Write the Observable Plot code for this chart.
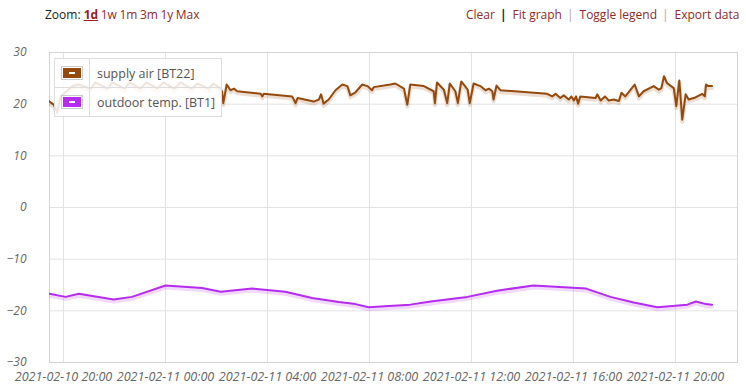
<!DOCTYPE html>
<html>
<head>
<meta charset="utf-8">
<script src="https://cdn.jsdelivr.net/npm/d3@7"></script>
<script src="https://cdn.jsdelivr.net/npm/@observablehq/plot@0.6"></script>
<style>
  html, body { margin: 0; padding: 0; background: #fff; overflow: hidden; }
  body { width: 746px; height: 392px; position: relative; font-family: "Open Sans", sans-serif; }
  #zoom { position: absolute; left: 45px; top: 6px; font-size: 12px; color: #222; white-space: nowrap; }
  #zoom a { color: #8e2a2a; text-decoration: none; margin-right: -0.6px; }
  #zoom a.sel { font-weight: bold; text-decoration: underline; color: #9a2020; }
  #tools { position: absolute; left: 466px; top: 6px; font-size: 12px; white-space: nowrap; color: #8e2a2a; }
  #tools .sep { color: #aaa; margin: 0 6px 0 5px; }
  #tools .sep.b { color: #222; font-weight: bold; }
  #chart { position: absolute; left: 0; top: 30px; }
  #legend { position: absolute; left: 54px; top: 58px; background: rgba(255,255,255,0.85); border: 1px solid #ddd; font-size: 12.5px; color: #555; }
  #legend .row { display: flex; align-items: center; height: 28px; }
  #legend .row + .row { border-top: 1px solid #ddd; }
  #legend .sw { width: 34px; height: 28px; border-right: 1px solid #ddd; display: flex; align-items: center; justify-content: center; }
  #legend .box { width: 18px; height: 10px; border: 1px solid #ccc; padding: 1px; }
  #legend .fill { width: 100%; height: 100%; position: relative; }
  #legend .fill::after { content: ""; position: absolute; left: 6px; right: 6px; top: 4px; height: 2px; background: #fff; }
  #legend .lab { padding: 0 6px 0 7px; }
</style>
</head>
<body>
<div id="zoom">Zoom: <a class="sel">1d</a> <a>1w</a> <a>1m</a> <a>3m</a> <a>1y</a> <a>Max</a></div>
<div id="tools">Clear<span class="sep b">|</span>Fit graph<span class="sep">|</span>Toggle legend<span class="sep">|</span>Export data</div>
<div id="chart"></div>
<div id="legend"></div>
<script>
// ---- data ----
const seriesNames = ["supply air [BT22]", "outdoor temp. [BT1]"];
const seriesColors = ["#95490c", "#b52cf0"];

const supplyTimes = [
  "2021-02-10T19:25","2021-02-10T19:37","2021-02-10T19:45","2021-02-10T19:53","2021-02-10T20:21",
  "2021-02-10T20:35","2021-02-10T21:04","2021-02-10T21:15","2021-02-10T21:44","2021-02-10T21:55",
  "2021-02-10T22:24","2021-02-10T22:35","2021-02-10T23:01","2021-02-10T23:15","2021-02-10T23:41",
  "2021-02-10T23:55","2021-02-11T00:21","2021-02-11T00:35","2021-02-11T01:01","2021-02-11T01:15",
  "2021-02-11T01:41","2021-02-11T01:53","2021-02-11T02:07","2021-02-11T02:13","2021-02-11T02:16",
  "2021-02-11T02:24","2021-02-11T02:33","2021-02-11T02:41","2021-02-11T02:49","2021-02-11T03:44",
  "2021-02-11T03:48","2021-02-11T03:51","2021-02-11T04:58","2021-02-11T05:06","2021-02-11T05:11",
  "2021-02-11T05:49","2021-02-11T06:01","2021-02-11T06:06","2021-02-11T06:12","2021-02-11T06:24",
  "2021-02-11T06:40","2021-02-11T06:56","2021-02-11T07:08","2021-02-11T07:15","2021-02-11T07:27",
  "2021-02-11T07:43","2021-02-11T07:55","2021-02-11T08:06","2021-02-11T08:10","2021-02-11T08:49",
  "2021-02-11T09:01","2021-02-11T09:21","2021-02-11T09:29","2021-02-11T09:36","2021-02-11T10:08",
  "2021-02-11T10:31","2021-02-11T10:34","2021-02-11T10:39","2021-02-11T10:55","2021-02-11T11:03",
  "2021-02-11T11:09","2021-02-11T11:22","2021-02-11T11:28","2021-02-11T11:36","2021-02-11T11:51",
  "2021-02-11T11:56","2021-02-11T12:05","2021-02-11T12:21","2021-02-11T12:33","2021-02-11T12:41",
  "2021-02-11T12:49","2021-02-11T12:52","2021-02-11T12:59","2021-02-11T13:08","2021-02-11T14:58",
  "2021-02-11T15:10","2021-02-11T15:18","2021-02-11T15:29","2021-02-11T15:37","2021-02-11T15:49",
  "2021-02-11T15:55","2021-02-11T16:01","2021-02-11T16:06","2021-02-11T16:11","2021-02-11T16:16",
  "2021-02-11T16:52","2021-02-11T16:56","2021-02-11T17:04","2021-02-11T17:14","2021-02-11T17:23",
  "2021-02-11T17:35","2021-02-11T17:47","2021-02-11T17:53","2021-02-11T18:02","2021-02-11T18:24",
  "2021-02-11T18:34","2021-02-11T18:45","2021-02-11T19:09","2021-02-11T19:21","2021-02-11T19:27",
  "2021-02-11T19:33","2021-02-11T19:40","2021-02-11T19:56","2021-02-11T20:02","2021-02-11T20:09",
  "2021-02-11T20:16","2021-02-11T20:24","2021-02-11T20:31","2021-02-11T20:47","2021-02-11T21:03",
  "2021-02-11T21:09","2021-02-11T21:12","2021-02-11T21:18","2021-02-11T21:26"
];
const supplyValues = [
  20.6,19.9,18.4,21.5,23.5,
  23.8,23.0,24.2,23.0,24.2,
  23.0,24.2,23.0,24.2,23.0,
  24.2,23.0,24.2,23.0,24.0,
  23.0,24.0,23.2,22.5,20.2,
  23.8,22.7,23.0,22.5,22.0,
  21.5,22.0,21.5,20.2,21.2,
  20.5,20.9,21.9,20.1,20.9,
  22.7,23.8,23.5,21.7,22.3,
  23.8,23.5,22.7,23.3,23.8,
  24.0,23.0,19.9,23.8,23.5,
  22.5,20.2,24.2,22.8,20.2,
  24.0,22.5,20.2,24.4,22.8,
  20.2,24.0,23.5,22.7,23.0,
  22.5,20.9,23.6,22.7,22.0,
  21.5,22.0,21.2,21.7,20.9,
  21.5,20.7,21.5,20.1,21.5,
  21.2,21.9,20.7,21.5,20.7,
  20.9,20.6,22.2,21.5,23.8,
  21.5,22.5,23.5,22.8,23.1,
  25.4,24.1,23.1,19.6,24.6,
  17.0,21.9,20.9,21.3,22.0,
  21.5,23.8,23.5,23.5
];

const outdoorTimes = [
  "2021-02-10T19:27","2021-02-10T20:05","2021-02-10T20:36","2021-02-10T21:58","2021-02-10T22:41",
  "2021-02-11T00:00","2021-02-11T01:26","2021-02-11T02:10","2021-02-11T03:24","2021-02-11T04:42",
  "2021-02-11T05:45","2021-02-11T06:48","2021-02-11T07:27","2021-02-11T07:58","2021-02-11T08:36",
  "2021-02-11T09:36","2021-02-11T10:24","2021-02-11T11:50","2021-02-11T13:00","2021-02-11T14:26",
  "2021-02-11T16:30","2021-02-11T17:27","2021-02-11T18:22","2021-02-11T19:17","2021-02-11T20:28",
  "2021-02-11T20:48","2021-02-11T21:12","2021-02-11T21:26"
];
const outdoorValues = [
  -16.7,-17.3,-16.7,-17.8,-17.3,
  -15.1,-15.6,-16.3,-15.7,-16.3,
  -17.5,-18.3,-18.7,-19.3,-19.1,
  -18.8,-18.2,-17.3,-16.1,-15.1,
  -15.7,-17.3,-18.4,-19.3,-18.8,
  -18.2,-18.7,-18.8
];

const xDomain = ["2021-02-10T19:27", "2021-02-11T22:26"];
const xTicks = ["2021-02-10T20:00","2021-02-11T00:00","2021-02-11T04:00","2021-02-11T08:00",
                "2021-02-11T12:00","2021-02-11T16:00","2021-02-11T20:00"];
const yTicks = [-30, -20, -10, 0, 10, 20, 30];

// ---- build ----
const parse = s => new Date(s + ":00Z");
const supply = supplyTimes.map((t, i) => ({t: parse(t), v: supplyValues[i]}));
const outdoor = outdoorTimes.map((t, i) => ({t: parse(t), v: outdoorValues[i]}));
const fmt = d3.utcFormat("%Y-%m-%d %H:%M");

const chart = Plot.plot({
  width: 746,
  height: 362,
  marginLeft: 49,
  marginRight: 9,
  marginTop: 22,
  marginBottom: 30,
  style: {fontFamily: "Open Sans, sans-serif", fontSize: "12px", background: "transparent"},
  x: {type: "utc", domain: xDomain.map(parse), label: null},
  y: {domain: [-30, 30], label: null},
  marks: [
    Plot.gridX(xTicks.map(parse), {stroke: "#e2e2e2", strokeOpacity: 1}),
    Plot.gridY(yTicks, {stroke: "#e2e2e2", strokeOpacity: 1}),
    Plot.frame({stroke: "#d4d4d4"}),
    Plot.line(supply, {x: "t", y: "v", stroke: seriesColors[0], strokeWidth: 4, strokeOpacity: 0.18, dy: 2, clip: true}),
    Plot.line(outdoor, {x: "t", y: "v", stroke: seriesColors[1], strokeWidth: 4, strokeOpacity: 0.18, dy: 2, clip: true}),
    Plot.line(supply, {x: "t", y: "v", stroke: seriesColors[0], strokeWidth: 2, clip: true}),
    Plot.line(outdoor, {x: "t", y: "v", stroke: seriesColors[1], strokeWidth: 2, clip: true}),
    Plot.axisX(xTicks.map(parse), {tickSize: 0, tickPadding: 10, tickFormat: fmt, fill: "#666", fontStyle: "italic", fontSize: 12.6, label: null}),
    Plot.axisY(yTicks, {tickSize: 0, tickPadding: 23, fill: "#666", fontStyle: "italic", fontSize: 12, label: null})
  ]
});
document.getElementById("chart").appendChild(chart);

const legend = document.getElementById("legend");
seriesNames.forEach((name, i) => {
  const row = document.createElement("div");
  row.className = "row";
  row.innerHTML = `<div class="sw"><div class="box"><div class="fill" style="background:${seriesColors[i]}"></div></div></div><div class="lab">${name}</div>`;
  legend.appendChild(row);
});
</script>
</body>
</html>
